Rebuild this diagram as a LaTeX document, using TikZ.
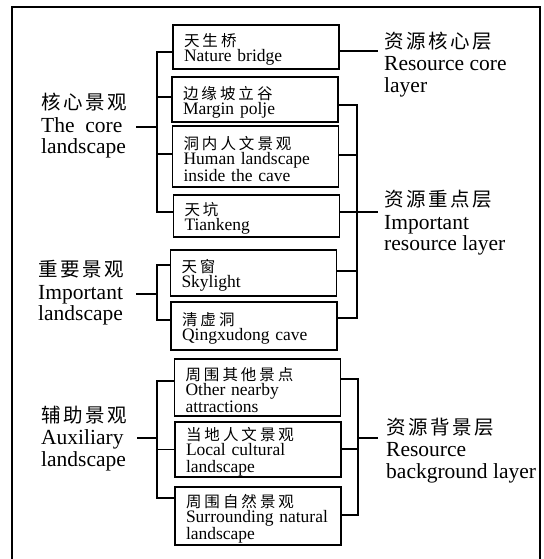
\documentclass[tikz,border=0pt]{standalone}
\usepackage{fontspec}
\setmainfont{Liberation Serif}
\newfontfamily\cjkfont{Noto Sans CJK SC}
\makeatletter
\newcommand\cjkspread[2]{\def\cjk@gap{#1}\cjk@loop#2\@nil}
\def\cjk@loop#1#2\@nil{#1\ifx\relax#2\relax\else\kern\cjk@gap\relax\cjk@loop#2\@nil\fi}
\makeatother
\newcommand\bzh[1]{\rule{0pt}{18.5pt}{\cjkfont\fontsize{15.5}{15.5}\selectfont\cjkspread{3pt}{#1}}}
\newcommand\lzh[1]{{\cjkfont\fontsize{19.5}{19.5}\selectfont\cjkspread{2.5pt}{#1}}}
\tikzset{
  box/.style={draw, line width=1.2pt, text width=144pt, inner xsep=11pt, inner ysep=0pt,
    align=left, font=\fontsize{17.5}{17}\selectfont},
  lab/.style={inner sep=0pt, align=left, anchor=west, font=\fontsize{21.5}{21.5}\selectfont},
  conn/.style={line width=1.1pt},
}
\begin{document}
\begin{tikzpicture}[x=1pt,y=-1pt]
\useasboundingbox (0,0) rectangle (543,559);
\draw[line width=1.3pt] (12,562) -- (12,7) -- (540,7) -- (540,562);

% boxes
\node[box, minimum height=44pt] (b1) at (256,47) {\bzh{天生桥}\\[-2pt]Nature bridge};
\node[box, minimum height=45pt] (b2) at (255,99.5) {\bzh{边缘坡立谷}\\[-2pt]Margin polje};
\node[box, minimum height=61pt] (b3) at (255.5,156.5) {\bzh{洞内人文景观}\\[-2pt]Human landscape\\inside the cave};
\node[box, minimum height=42pt] (b4) at (256.5,216) {\bzh{天坑}\\[-2pt]Tiankeng};
\node[box, minimum height=46pt] (b5) at (253.5,273) {\bzh{天窗}\\[-2pt]Skylight};
\node[box, minimum height=48pt] (b6) at (254,326) {\bzh{清虚洞}\\[-2pt]Qingxudong cave};
\node[box, minimum height=57pt] (b7) at (257.5,387.5) {\bzh{周围其他景点}\\[-2pt]Other nearby\\attractions};
\node[box, minimum height=55pt] (b8) at (258,449.5) {\bzh{当地人文景观}\\[-2pt]Local cultural\\landscape};
\node[box, minimum height=58pt] (b9) at (258,516) {\bzh{周围自然景观}\\[-2pt]Surrounding natural\\landscape};

% left labels
\node[lab] (l1) at (41,126) {\lzh{核心景观}\\[1pt]The\ \ core\\landscape};
\node[lab] (l2) at (38,293) {\lzh{重要景观}\\[1pt]Important\\landscape};
\node[lab] (l3) at (41,438.5) {\lzh{辅助景观}\\[1pt]Auxiliary\\landscape};

% right labels
\node[lab] (r1) at (384,64.5) {\lzh{资源核心层}\\[1pt]Resource core\\layer};
\node[lab] (r2) at (384,223) {\lzh{资源重点层}\\[1pt]Important\\resource layer};
\node[lab] (r3) at (386,450.5) {\lzh{资源背景层}\\[1pt]Resource\\background layer};

% junction coordinates
\coordinate (L1) at (157,127);  \coordinate (L1e) at (136,127);
\coordinate (L2) at (157,294);  \coordinate (L2e) at (136,294);
\coordinate (L3) at (157,438);  \coordinate (L3e) at (137,438);
\coordinate (R1e) at (378,51);
\coordinate (R2) at (357,212);  \coordinate (R2e) at (378,212);
\coordinate (R3) at (358,438);  \coordinate (R3e) at (378,438);

% left brackets
\draw[conn] ([yshift=-5pt]b1.west) -- ([yshift=-5pt]b1.west -| L1) -- ([yshift=4pt]b4.west -| L1) -- ([yshift=4pt]b4.west);
\draw[conn] ([yshift=2.5pt]b2.west) -- ([yshift=2.5pt]b2.west -| L1);
\draw[conn] ([yshift=2.5pt]b3.west) -- ([yshift=2.5pt]b3.west -| L1);
\draw[conn] (L1e) -- (L1);

\draw[conn] ([yshift=8pt]b5.west) -- ([yshift=8pt]b5.west -| L2) -- ([yshift=6pt]b6.west -| L2) -- ([yshift=6pt]b6.west);
\draw[conn] (L2e) -- (L2);

\draw[conn] ([yshift=6.5pt]b7.west) -- ([yshift=6.5pt]b7.west -| L3) -- ([yshift=18pt]b9.west -| L3) -- ([yshift=18pt]b9.west);
\draw[conn] (b8.west) -- (b8.west -| L3);
\draw[conn] (L3e) -- (L3);

% right connectors
\draw[conn] ([yshift=-4pt]b1.east) -- ([yshift=-4pt]b1.east -| R1e);

\draw[conn] ([yshift=-5.5pt]b2.east) -- ([yshift=-5.5pt]b2.east -| R2) -- ([yshift=8pt]b6.east -| R2) -- ([yshift=8pt]b6.east);
\draw[conn] ([yshift=1.5pt]b3.east) -- ([yshift=1.5pt]b3.east -| R2);
\draw[conn] ([yshift=4pt]b4.east) -- ([yshift=4pt]b4.east -| R2);
\draw[conn] ([yshift=2pt]b5.east) -- ([yshift=2pt]b5.east -| R2);
\draw[conn] (R2) -- (R2e);

\draw[conn] ([yshift=8.5pt]b7.east) -- ([yshift=8.5pt]b7.east -| R3) -- ([yshift=1pt]b9.east -| R3) -- ([yshift=1pt]b9.east);
\draw[conn] ([yshift=0.5pt]b8.east) -- ([yshift=0.5pt]b8.east -| R3);
\draw[conn] (R3) -- (R3e);
\end{tikzpicture}
\end{document}
